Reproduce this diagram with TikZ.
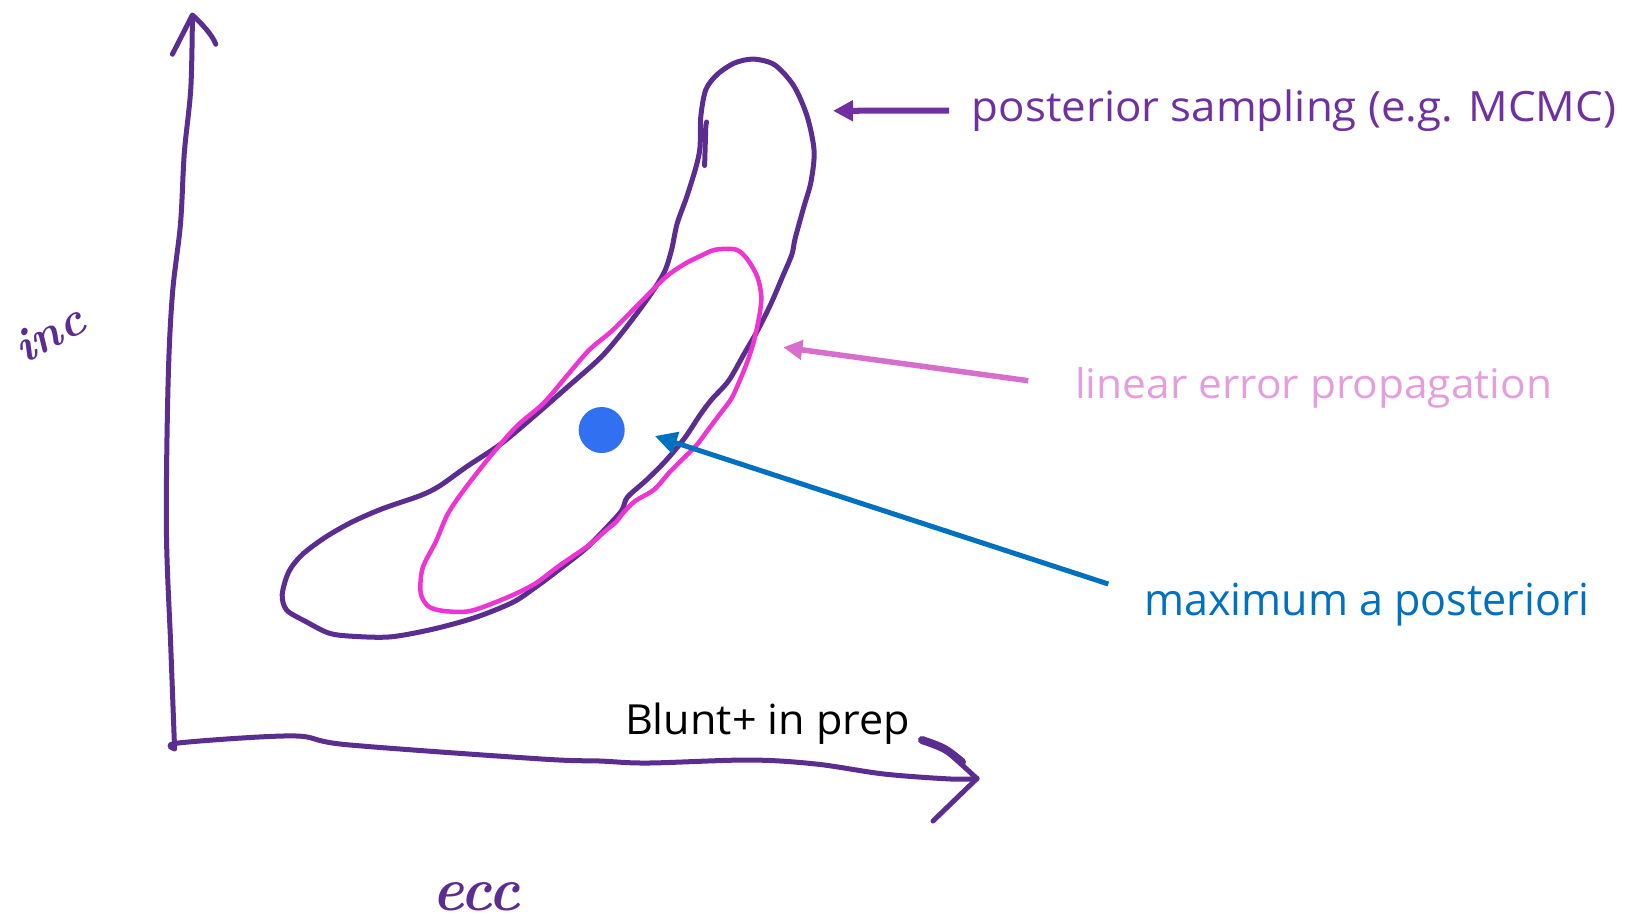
\documentclass[tikz,border=0pt]{standalone}
\usepackage{fontspec}
\usepackage{graphicx}
\usetikzlibrary{arrows.meta}
\newfontfamily\labelfont{Open Sans}
\definecolor{axispurple}{RGB}{91,45,145}
\definecolor{arrowpurple}{RGB}{112,48,160}
\definecolor{blobmagenta}{RGB}{238,52,210}
\definecolor{pinkarrow}{RGB}{216,110,204}
\definecolor{pinktext}{RGB}{229,158,221}
\definecolor{dotblue}{RGB}{49,112,240}
\definecolor{mapblue}{RGB}{0,112,192}
\begin{document}
\begin{tikzpicture}[x=0.01cm,y=-0.01cm,
  hand/.style={line width=0.05cm, line cap=round, line join=round},
  labeltext/.style={anchor=base west, inner sep=0pt, outer sep=0pt},
  pointer/.style={line cap=butt, -{Triangle[length=#1, width=#1]}}]
\useasboundingbox (0,0) rectangle (1627,923);

% axes
\draw[hand, axispurple] plot[smooth, tension=0.55] coordinates {
  (174.6,748.8) (170.8,647.6) (166.4,529.8) (168.1,382.7) (172.4,294.4)
  (180.5,223.7) (184.3,153.1) (190.8,88.3) (192.4,16)};
\draw[hand, axispurple] (172.4,54.2) -- (192.4,15) .. controls (200,22) and (212,34) .. (215.8,44.2);
\draw[hand, axispurple] plot[smooth, tension=0.55] coordinates {
  (174.6,748.8) (178.9,742.9) (292.7,735.9) (346.9,744.7) (542,759) (600,761)
  (648,763) (749,760) (816,764) (884,774) (951,779) (977,778.5)};
\draw[axispurple, line width=0.08cm, line cap=round] (922,740) .. controls (945,748) .. (962,762);
\draw[hand, axispurple] (950,754) -- (977,778.5) -- (933,821);

% posterior sampling contour
\draw[hand, axispurple] plot[smooth cycle, tension=0.5] coordinates {
  (700.0,147.1) (700.8,116.5) (705.8,89.7) (717.3,74.4) (734.5,63.0) (753.6,59.1)
  (774.7,64.9) (793.8,85.9) (807.2,116.5) (814.1,151.0) (811.0,181.6) (803.4,208.4)
  (795.0,239.0) (791.9,254.3) (782.3,277.2) (770.8,304.0) (757.4,330.8) (744.1,353.8)
  (728.7,380.6) (711.5,399.7) (700.0,415.0) (684.7,438.0) (665.6,460.9) (646.5,480.0)
  (627.3,497.3) (621.6,510.7) (604.4,529.8) (585.3,548.9) (558.5,570.0) (535.5,587.2)
  (512.5,602.5) (474.3,617.8) (432.2,629.3) (390.1,636.9) (351.8,636.2) (328.9,633.1)
  (305.9,621.6) (286.8,610.2) (282.2,594.8) (288.7,571.9) (302.1,554.7) (325.1,537.4)
  (351.8,522.1) (382.4,508.7) (420.7,495.4) (439.8,485.8) (466.6,466.7) (501.1,443.7)
  (535.5,415.0) (566.1,388.2) (600.6,357.6) (623.5,330.8) (646.5,300.2) (663.7,273.4)
  (671.4,250.5) (677.1,223.7) (686.7,196.9) (696.2,166.3)};
\draw[hand, axispurple] (706.5,122) -- (705.8,126) -- (704.6,165.5);

% linear error propagation contour
\draw[line width=0.045cm, line join=round, blobmagenta] plot[smooth cycle, tension=0.5] coordinates {
  (715.4,249.7) (736.4,249.7) (747.9,260.0) (757.5,277.2) (761.3,296.4) (759.4,315.5)
  (753.6,342.3) (746.0,365.3) (736.4,388.2) (730.7,399.7) (719.2,415.0) (707.7,430.3)
  (696.2,445.6) (684.7,457.1) (669.4,472.4) (654.1,489.6) (635.0,501.1) (623.5,512.6)
  (615.9,522.1) (604.4,531.7) (589.1,545.1) (558.5,566.2) (535.5,583.4) (508.7,596.8)
  (470.5,610.9) (443.7,610.9) (428.4,606.3) (420.7,592.9) (422.6,568.1) (436.0,541.3)
  (447.5,514.5) (462.8,491.5) (489.6,457.1) (516.4,426.5) (543.2,403.5) (566.1,376.7)
  (589.1,350.0) (612.0,330.8) (638.8,304.0) (665.6,277.2) (684.7,263.9) (700.0,256.2)};

% maximum a posteriori point
\node[circle, fill=dotblue, minimum size=0.46cm, inner sep=0pt] (map) at (601.7,430) {};

% labels
\node[labeltext, text=arrowpurple] (post) at (971.7,121.7)
  {\resizebox{6.44cm}{0.317cm}{\labelfont posterior sampling (e.g. MCMC)}};
\node[labeltext, text=pinktext] (lin) at (1075,398.5)
  {\resizebox{4.77cm}{0.31cm}{\labelfont linear error propagation}};
\node[labeltext, text=mapblue] (maxap) at (1144,615.7)
  {\resizebox{4.455cm}{0.324cm}{\labelfont maximum a posteriori}};
\node[labeltext, text=black] (blunt) at (625,734.7)
  {\resizebox{2.85cm}{0.315cm}{\labelfont Blunt+ in prep}};
\node[labeltext, text=axispurple, rotate=28] (inc) at (24,364)
  {\fontsize{13.5pt}{16pt}\selectfont\bfseries\itshape inc};
\node[labeltext, text=axispurple] (ecc) at (432,910)
  {\resizebox{0.88cm}{0.28cm}{\bfseries\itshape ecc}};

% pointers
\coordinate (postTail) at (949,110.5);
\coordinate (postTip) at (833,110.8);
\coordinate (linTail) at (1028.3,380.7);
\coordinate (linTip) at (783.3,347.3);
\coordinate (mapTail) at (1108.3,584);
\coordinate (mapTip) at (654.9,436);
\draw[pointer=0.2cm, arrowpurple, line width=0.06cm] (postTail) -- (postTip);
\draw[pointer=0.19cm, pinkarrow, line width=0.055cm] (linTail) -- (linTip);
\draw[pointer=0.22cm, mapblue, line width=0.05cm] (mapTail) -- (mapTip);
\end{tikzpicture}
\end{document}
